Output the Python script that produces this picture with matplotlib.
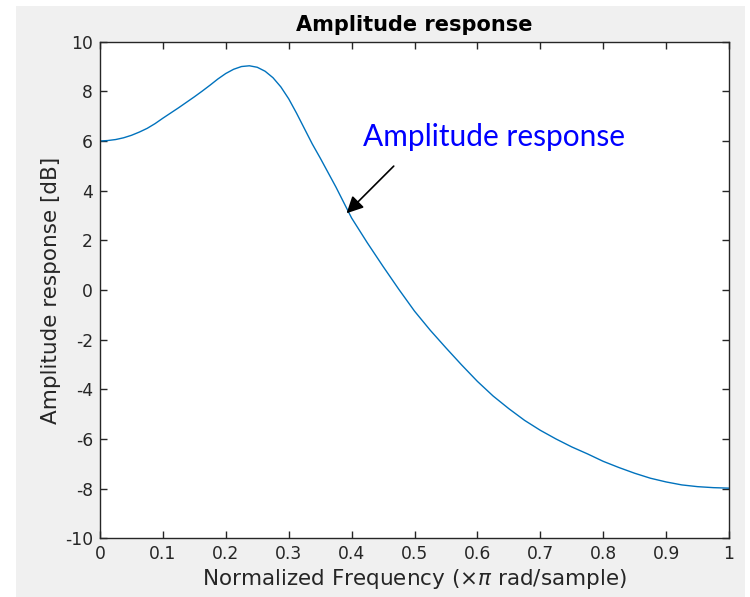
import matplotlib.pyplot as plt
from matplotlib.patches import Rectangle

plt.rcParams['axes.unicode_minus'] = False

# Normalized frequency (x pi rad/sample) and amplitude response [dB]
freq = [0.0000, 0.0125, 0.0250, 0.0375, 0.0500, 0.0625, 0.0750, 0.0875, 0.1000,
        0.1125, 0.1250, 0.1375, 0.1500, 0.1625, 0.1750, 0.1875, 0.2000, 0.2125,
        0.2250, 0.2375, 0.2500, 0.2625, 0.2750, 0.2875, 0.3000, 0.3125, 0.3250,
        0.3375, 0.3500, 0.375, 0.400, 0.425, 0.450, 0.475, 0.500, 0.525, 0.550,
        0.575, 0.600, 0.625, 0.650, 0.675, 0.700, 0.725, 0.750, 0.775, 0.800,
        0.825, 0.850, 0.875, 0.900, 0.925, 0.950, 0.975, 1.000]
amp_db = [6.00, 6.02, 6.06, 6.13, 6.23, 6.36, 6.51, 6.70, 6.92,
          7.13, 7.34, 7.56, 7.78, 8.01, 8.25, 8.50, 8.72, 8.89,
          9.00, 9.03, 8.97, 8.81, 8.55, 8.18, 7.70, 7.12, 6.50,
          5.88, 5.32, 4.15, 2.90, 1.90, 0.95, 0.03, -0.85, -1.62, -2.33,
          -3.02, -3.68, -4.27, -4.78, -5.25, -5.65, -6.00, -6.32, -6.60, -6.90,
          -7.15, -7.38, -7.58, -7.73, -7.85, -7.92, -7.96, -7.98]

xticks = [0, 0.1, 0.2, 0.3, 0.4, 0.5, 0.6, 0.7, 0.8, 0.9, 1]
xticklabels = ['0', '0.1', '0.2', '0.3', '0.4', '0.5', '0.6', '0.7', '0.8', '0.9', '1']
yticks = list(range(-10, 11, 2))

dark = '#262626'

fig = plt.figure(figsize=(7.5, 5.97), dpi=100, facecolor='white')
# grey window background like the MATLAB figure
fig.patches.append(Rectangle((16 / 750, 0), (745 - 16) / 750, 1 - 6 / 597,
                             transform=fig.transFigure, facecolor='#f0f0f0',
                             edgecolor='none', zorder=-1))

ax = fig.add_axes([100 / 750, 1 - 538.3 / 597, 629 / 750, (538.3 - 41.7) / 597])
ax.plot(freq, amp_db, color='#0072bd', linewidth=1.0)

ax.set_xlim(0, 1)
ax.set_ylim(-10, 10)
ax.set_xticks(xticks)
ax.set_xticklabels(xticklabels)
ax.set_yticks(yticks)
ax.tick_params(direction='in', length=5, width=1, color=dark, labelcolor=dark,
               labelsize=12.3, top=True, right=True, pad=5)
for s in ax.spines.values():
    s.set_color(dark)
    s.set_linewidth(1)

ax.set_title('Amplitude response', fontsize=15, fontweight='bold', pad=8)
ax.set_xlabel(r'Normalized Frequency ($\times\pi$ rad/sample)', fontsize=15.5, color=dark, labelpad=3)
ax.set_ylabel('Amplitude response [dB]', fontsize=15.5, color=dark, labelpad=3)

# annotation
ax.text(0.418, 6.16, 'Amplitude response', color='blue', fontsize=21.5,
        family=['Lato', 'DejaVu Sans'], va='center', ha='left')
ax.annotate('', xy=(0.392, 3.09), xytext=(0.467, 4.99),
            arrowprops=dict(arrowstyle='-|>', color='black', lw=1.2,
                            mutation_scale=25, shrinkA=0, shrinkB=0))

fig.savefig('out.png', dpi=100, facecolor=fig.get_facecolor())
